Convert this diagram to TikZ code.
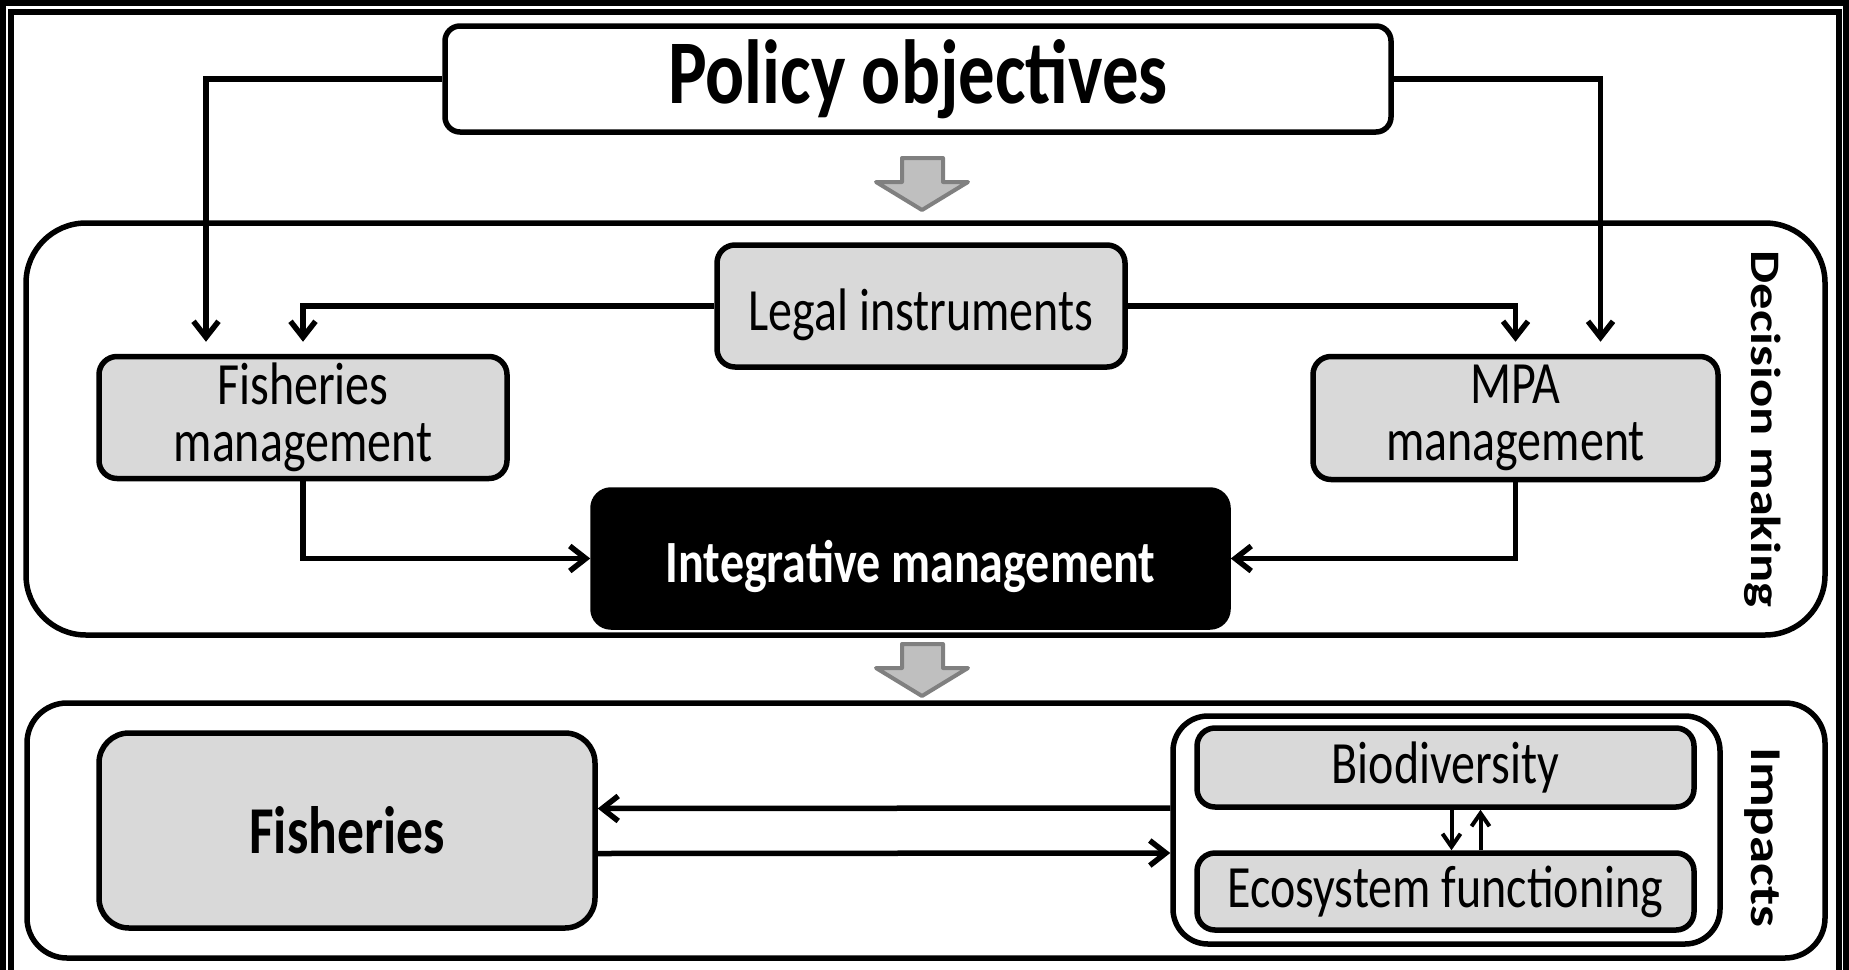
\documentclass[tikz,border=0pt]{standalone}
\usepackage{fontspec}
\setmainfont[FakeStretch=0.8]{Carlito}
\newfontfamily\sidefont[FakeStretch=1.25]{Carlito}
\usetikzlibrary{arrows.meta}

\begin{document}
\begin{tikzpicture}[x=1pt,y=-1pt,
	box/.style={draw, line width=5.5pt, rounded corners=18pt, fill=gray!30, align=center, inner sep=0pt, font=\fontsize{60}{57}\selectfont},
	frame/.style={draw, line width=5.5pt, inner sep=0pt},
	pile/.style={line width=5.5pt, -{Straight Barb[length=16pt,width=25pt]}},
	smallpile/.style={line width=4pt, -{Straight Barb[length=13pt,width=18pt]}},
	bigarrow/.style={fill=gray!50, draw=gray, line width=4pt, line join=round},
	side/.style={rotate=-90, inner sep=0pt, font=\sidefont\bfseries\fontsize{42}{42}\selectfont}]

	\clip (0,0) rectangle (1849,969);
	\fill[white] (0,0) rectangle (1849,969);

	% Outer double border
	\draw[line width=6pt] (3,3) rectangle (1846,1100);
	\draw[line width=5.5pt] (11,12) rectangle (1839,1100);

	% Frames
	\draw (925.5,429) node[frame, rounded corners=60pt, minimum width=1799pt, minimum height=412pt] (decision) {};
	\draw (926,830.5) node[frame, rounded corners=40pt, minimum width=1798pt, minimum height=255pt] (impacts) {};
	\draw ([xshift=-65pt]decision.east) node[side] (declabel) {Decision making};
	\draw ([xshift=-65pt,yshift=-7pt]impacts.east) node[side, font=\sidefont\bfseries\fontsize{44}{44}\selectfont] (implabel) {Impacts};

	% Policy and decision boxes
	\draw (918,79) node[box, fill=white, rounded corners=15pt, minimum width=946pt, minimum height=106pt, font=\bfseries\fontsize{91}{91}\selectfont] (policy) {Policy objectives};
	\draw (921,306) node[box, minimum width=408pt, minimum height=122pt, text height=52pt, text depth=4pt] (legal) {Legal instruments};
	\draw (303,417.5) node[box, minimum width=408pt, minimum height=122pt] (fishmgmt) {Fisheries\\management};
	\draw (1515.5,418) node[box, minimum width=405pt, minimum height=123pt] (mpamgmt) {MPA\\management};
	\draw (910.5,558.5) node[box, fill=black, text=white, minimum width=635pt, minimum height=137pt, text height=52pt, text depth=4pt, font=\bfseries\fontsize{60}{60}\selectfont] (integ) {Integrative management};

	% Impact boxes
	\draw (347,830.5) node[box, rounded corners=30pt, minimum width=496pt, minimum height=195pt, font=\bfseries\fontsize{67}{67}\selectfont] (fisheries) {Fisheries};
	\draw (1446.5,830) node[box, fill=white, rounded corners=35pt, minimum width=547pt, minimum height=228pt] (impinner) {};
	\draw (1445.5,767.5) node[box, minimum width=497pt, minimum height=79pt] (bio) {Biodiversity};
	\draw (1445.5,891.5) node[box, minimum width=497pt, minimum height=77pt] (eco) {Ecosystem functioning};

	% Gray arrows between levels
	\filldraw[bigarrow] (902,158) -- (943,158) -- (943,182) -- (968,182) -- (922,210) -- (876,182) -- (902,182) -- cycle;
	\filldraw[bigarrow] (902,644) -- (943,644) -- (943,668) -- (968,668) -- (922,696) -- (876,668) -- (902,668) -- cycle;

	% Connectors
	\draw[pile, shorten >=12pt] (policy.west) -| ([xshift=-97pt]fishmgmt.north);
	\draw[pile, shorten >=12pt] (policy.east) -| ([xshift=85pt]mpamgmt.north);
	\draw[pile, shorten >=12pt] (legal.west) -| (fishmgmt.north);
	\draw[pile, shorten >=12pt] (legal.east) -| (mpamgmt.north);
	\draw[pile] (fishmgmt.south) |- (integ.west);
	\draw[pile] (mpamgmt.south) |- (integ.east);

	\draw[pile] ([yshift=22pt]impinner.west) -- ([yshift=22pt]fisheries.east);
	\draw[pile] ([yshift=-23pt]fisheries.east) -- ([yshift=-23pt]impinner.west);
	\draw[smallpile] ([xshift=6pt]bio.south) -- ([xshift=6pt]eco.north);
	\draw[smallpile] ([xshift=35pt]eco.north) -- ([xshift=35pt]bio.south);

\end{tikzpicture}
\end{document}
